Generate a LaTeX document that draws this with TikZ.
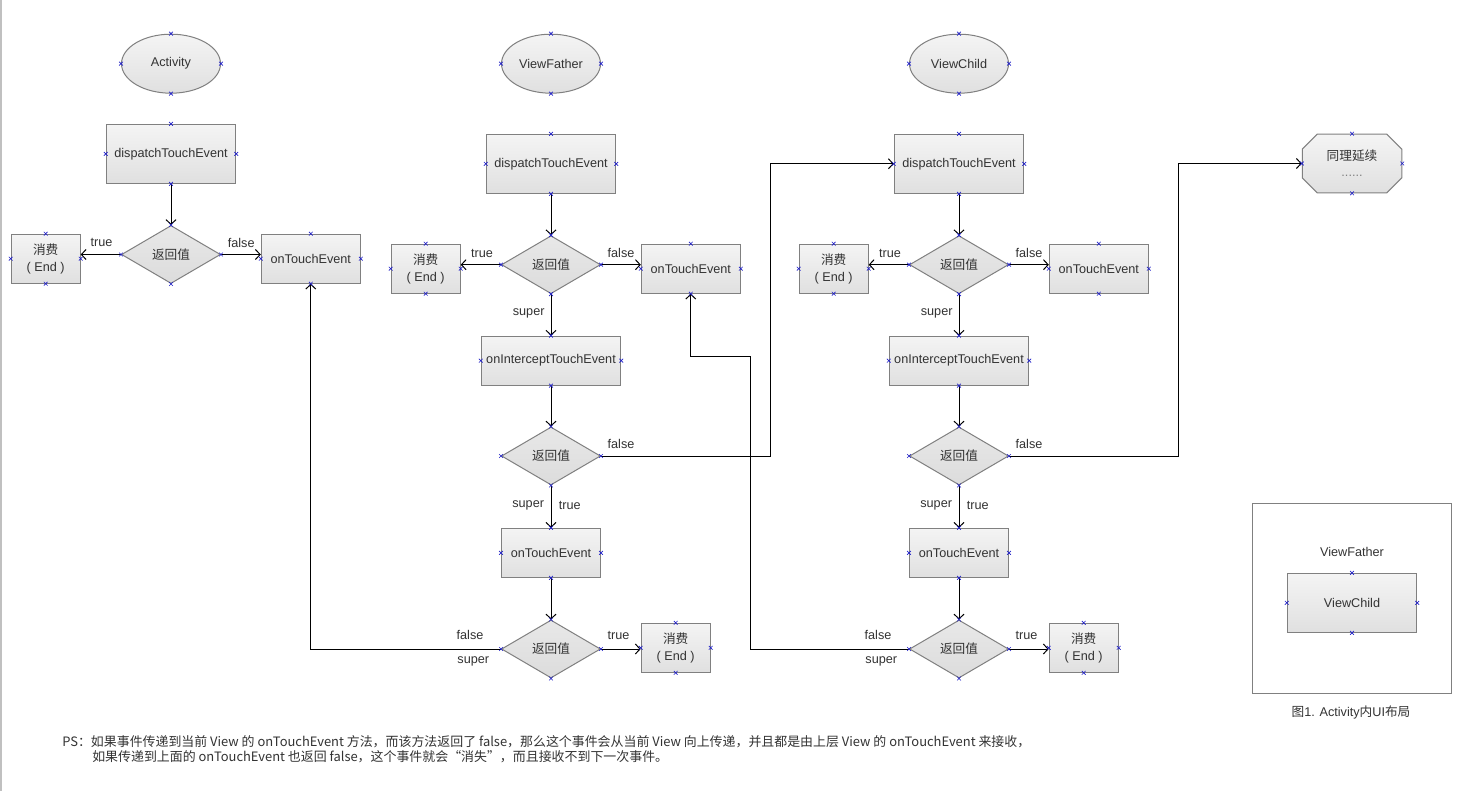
\documentclass[tikz,border=0pt]{standalone}
\usepackage{fontspec}
\setmainfont{Liberation Sans}
\newfontfamily\cjk{Noto Sans CJK SC}
\usetikzlibrary{shapes.geometric,shapes.misc,arrows.meta}
\definecolor{txt}{HTML}{333333}
\definecolor{bord}{HTML}{808080}
\definecolor{boxtop}{HTML}{F4F4F4}
\definecolor{boxbot}{HTML}{E0E0E0}
\definecolor{diatop}{HTML}{E8E8E8}
\definecolor{diabot}{HTML}{DCDCDC}
\definecolor{mkc}{HTML}{2020C8}
\definecolor{edgegray}{HTML}{C0C0C0}
\newcommand\xfend{{\cjk 消费}\\( End )}
\begin{document}
\begin{tikzpicture}[x=0.75pt,y=-0.75pt,
  base/.style={draw=bord, line width=0.75pt, text=txt, font=\fontsize{9.5pt}{12.75pt}\selectfont, inner sep=0pt, align=center},
  shade box/.style={top color=boxtop, bottom color=boxbot},
  startnode/.style={base, shade box, ellipse, minimum width=74.25pt, minimum height=44.25pt},
  wide/.style={base, shade box, rectangle, minimum width=97.1pt, minimum height=44.25pt},
  proc/.style={base, shade box, rectangle, minimum width=74.25pt, minimum height=36.75pt},
  endbox/.style={base, shade box, rectangle, minimum width=51.75pt, minimum height=36.75pt},
  interbox/.style={base, shade box, rectangle, minimum width=104.6pt, minimum height=36.75pt},
  decide/.style={base, top color=diatop, bottom color=diabot, diamond, minimum width=74.25pt, minimum height=43.5pt},
  contbox/.style={base, shade box, chamfered rectangle, chamfered rectangle xsep=5.6pt, chamfered rectangle ysep=5.6pt, minimum width=74.6pt, minimum height=43.9pt},
  lbl/.style={text=txt, font=\fontsize{9.5pt}{11pt}\selectfont, inner sep=0pt},
  pstext/.style={text=txt, font=\fontsize{9.7pt}{11pt}\selectfont\cjk, inner sep=0pt, anchor=west},
  flow/.style={draw=black, line width=0.75pt, -{Straight Barb[length=3.5pt,width=7.5pt,line width=0.75pt]}},
  mk/.style={draw=mkc, line width=0.5pt},
  ]
\useasboundingbox (0,0) rectangle (1473,791);
\fill[white] (0,0) rectangle (1473,791);
\draw[edgegray, line width=1.5pt] (1,0) -- (1,791);

% column 1: Activity
\node[startnode] (a0) at (171,63.7) {Activity};
\node[wide] (a1) at (171,153.8) {dispatchTouchEvent};
\node[decide] (a2) at (171,254.5) {\cjk 返回值};
\node[endbox] (a3) at (45.7,258.7) {\xfend};
\node[proc] (a4) at (310.8,258.7) {onTouchEvent};

% column 2: ViewFather
\node[startnode] (b0) at (551,63.7) {ViewFather};
\node[wide] (b1) at (551,163.8) {dispatchTouchEvent};
\node[decide] (b2) at (551,264.7) {\cjk 返回值};
\node[endbox] (b3) at (425.7,268.7) {\xfend};
\node[proc] (b4) at (690.8,268.7) {onTouchEvent};
\node[interbox] (b5) at (551,360.7) {onInterceptTouchEvent};
\node[decide] (b6) at (551,456) {\cjk 返回值};
\node[proc] (b7) at (551,552.8) {onTouchEvent};
\node[decide] (b8) at (551,649) {\cjk 返回值};
\node[endbox] (b9) at (675.7,647.8) {\xfend};

% column 3: ViewChild
\node[startnode] (c0) at (959,63.7) {ViewChild};
\node[wide] (c1) at (959,163.8) {dispatchTouchEvent};
\node[decide] (c2) at (959,264.7) {\cjk 返回值};
\node[endbox] (c3) at (833.7,268.7) {\xfend};
\node[proc] (c4) at (1098.8,268.7) {onTouchEvent};
\node[interbox] (c5) at (959,360.7) {onInterceptTouchEvent};
\node[decide] (c6) at (959,456) {\cjk 返回值};
\node[proc] (c7) at (959,552.8) {onTouchEvent};
\node[decide] (c8) at (959,649) {\cjk 返回值};
\node[endbox] (c9) at (1083.7,647.8) {\xfend};

% continuation
\node[contbox] (d1) at (1352,163.5) {{\cjk 同理延续}\\[-1pt]{\color{gray}......}};

% legend
\node[draw=bord, line width=0.75pt, minimum width=149.5pt, minimum height=142.5pt, inner sep=0pt] (lg) at (1352,598.3) {};
\node[lbl] (lgt) at (1352,551.7) {ViewFather};
\node[wide] (lgc) at (1352,602.8) {ViewChild};
\node[lbl] (cap) at (1351,712.7) {{\cjk 图}1. Activity{\cjk 内}UI{\cjk 布局}};

% note
\node[pstext] (ps1) at (62,742) {PS：如果事件传递到当前 View 的 onTouchEvent 方法，而该方法返回了 false，那么这个事件会从当前 View 向上传递，并且都是由上层 View 的 onTouchEvent 来接收，};
\node[pstext] (ps2) at (92,757) {如果传递到上面的 onTouchEvent 也返回 false，这个事件就会“消失”，而且接收不到下一次事件。};

% connectors
\coordinate (j1) at (770.7,456);
\coordinate (j2) at (1178.7,456);
\coordinate (j3) at (750.7,356);
\draw[flow] (a1.south) -- (a2.north);
\draw[flow] (a2.west) -- (a2.west -| a3.east);
\draw[flow] (a2.east) -- (a2.east -| a4.west);

\draw[flow] (b1.south) -- (b2.north);
\draw[flow] (b2.west) -- (b2.west -| b3.east);
\draw[flow] (b2.east) -- (b2.east -| b4.west);
\draw[flow] (b2.south) -- (b5.north);
\draw[flow] (b5.south) -- (b6.north);
\draw[flow] (b6.south) -- (b7.north);
\draw[flow] (b7.south) -- (b8.north);
\draw[flow] (b8.east) -- (b8.east -| b9.west);
\draw[flow] (b6.east) -- (j1) |- (c1.west);
\draw[flow] (b8.west) -| (a4.south);

\draw[flow] (c1.south) -- (c2.north);
\draw[flow] (c2.west) -- (c2.west -| c3.east);
\draw[flow] (c2.east) -- (c2.east -| c4.west);
\draw[flow] (c2.south) -- (c5.north);
\draw[flow] (c5.south) -- (c6.north);
\draw[flow] (c6.south) -- (c7.north);
\draw[flow] (c7.south) -- (c8.north);
\draw[flow] (c8.east) -- (c8.east -| c9.west);
\draw[flow] (c6.east) -- (j2) |- (d1.west);
\draw[flow] (c8.west) -| (j3) -| (b4.south);

% connector labels
\node[lbl] (la1) at (101.5,242.7) {true};
\node[lbl] (la2) at (241.2,242.7) {false};
\node[lbl] (lb1) at (482,253) {true};
\node[lbl] (lb2) at (621,253) {false};
\node[lbl] (lb3) at (528.7,313.3) {super};
\node[lbl] (lb4) at (621,444.3) {false};
\node[lbl] (lb5) at (528.2,505) {super};
\node[lbl] (lb6) at (569.8,505) {true};
\node[lbl] (lb7) at (618.5,635) {true};
\node[lbl] (lb8) at (470,635) {false};
\node[lbl] (lb9) at (473.3,661) {super};
\node[lbl] (lc1) at (890,253) {true};
\node[lbl] (lc2) at (1029,253) {false};
\node[lbl] (lc3) at (936.7,313.3) {super};
\node[lbl] (lc4) at (1029,444.3) {false};
\node[lbl] (lc5) at (936.2,505) {super};
\node[lbl] (lc6) at (977.8,505) {true};
\node[lbl] (lc7) at (1026.5,635) {true};
\node[lbl] (lc8) at (878,635) {false};
\node[lbl] (lc9) at (881.3,661) {super};

% connection point markers
\foreach \n in {a0,a1,a2,a3,a4,b0,b1,b2,b3,b4,b5,b6,b7,b8,b9,c0,c1,c2,c3,c4,c5,c6,c7,c8,c9,d1,lgc}{
  \foreach \a in {north,south,east,west}{
    \draw[mk] (\n.\a) +(-1.4pt,-1.4pt) -- +(1.4pt,1.4pt) +(-1.4pt,1.4pt) -- +(1.4pt,-1.4pt);
  }
}
\end{tikzpicture}
\end{document}
